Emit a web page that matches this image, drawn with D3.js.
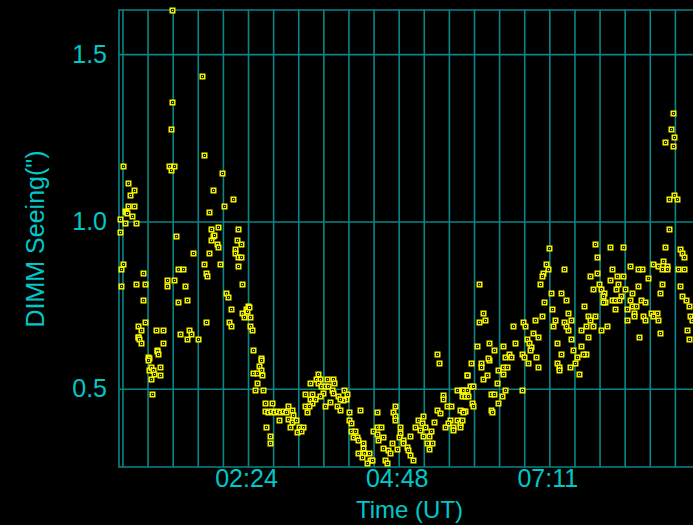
<!DOCTYPE html>
<html>
<head>
<meta charset="utf-8">
<script src="https://cdn.jsdelivr.net/npm/d3@7"></script>
<style>
  html, body { margin: 0; padding: 0; background: #000; overflow: hidden; }
  svg { display: block; }
</style>
</head>
<body>
<svg id="chart" width="693" height="525"></svg>
<script>
// ---- data ---------------------------------------------------------------
// time axis in minutes after 00:00 UT, seeing in arcsec
const timeTicks = [144, 288, 432];
const timeLabels = ['02:24', '04:48', '07:11'];
const gridMinutes = d3.range(24, 577, 24);   // one grid line every 24 min
const seeingTicks = [0.5, 1.0, 1.5];
const seeingLabels = ['0.5', '1.0', '1.5'];
const xTitle = 'Time (UT)';
const yTitle = 'DIMM Seeing(")';

// [minutes UT, DIMM seeing]
const seeingObs = [
  [21.7,1.007],[21.7,0.967],[22.6,0.858],[22.6,0.808],[24.2,1.166],[24.2,0.874],[26.1,0.995],[26.4,1.032],
  [27.4,1.028],[28.3,1.026],[29.6,1.116],[29.6,1.045],[31.5,1.078],[33.4,1.017],[35.0,1.094],[35.0,1.045],
  [36.7,0.995],[36.7,0.814],[38.6,0.688],[38.6,0.656],[39.3,0.654],[40.1,0.649],[42.0,0.676],[42.0,0.638],
  [43.6,0.847],[43.6,0.764],[45.5,0.814],[45.5,0.698],[48.1,0.594],[48.9,0.592],[48.4,0.586],[49.1,0.556],
  [51.0,0.566],[51.0,0.529],[52.5,0.485],[52.9,0.556],[54.4,0.545],[56.1,0.676],[56.7,0.616],[57.0,0.613],
  [58.0,0.605],[59.9,0.566],[59.9,0.540],[63.1,0.676],[63.1,0.638],[66.6,0.825],[66.6,0.808],[68.8,1.166],
  [70.1,1.154],[70.1,1.275],[71.6,1.631],[71.6,1.357],[73.3,1.166],[73.6,0.825],[75.2,0.956],[77.4,0.858],
  [77.4,0.759],[79.0,0.665],[82.2,0.858],[84.1,0.808],[86.0,0.764],[86.0,0.649],[87.6,0.676],[89.5,0.665],
  [91.1,0.907],[96.5,0.649],[100.0,1.435],[102.0,1.199],[102.0,0.874],[103.6,0.847],[103.6,0.698],[105.1,0.836],
  [107.0,1.028],[107.0,0.907],[108.6,0.978],[108.6,0.945],[110.6,1.094],[110.8,0.956],[111.5,0.960],[114.1,0.934],
  [115.6,0.984],[115.6,0.923],[117.5,0.874],[119.4,1.144],[121.1,1.045],[123.0,0.786],[124.6,0.775],[126.1,0.698],
  [128.0,0.737],[128.0,0.688],[130.0,1.067],[131.6,0.917],[131.6,0.907],[133.2,0.945],[134.4,0.978],[134.4,0.895],
  [134.4,0.868],[137.0,0.934],[137.0,0.895],[138.6,0.814],[138.6,0.726],[140.2,0.715],[142.1,0.737],[143.0,0.733],
  [144.0,0.748],[145.0,0.745],[145.9,0.715],[145.9,0.688],[147.5,0.676],[149.1,0.616],[156.1,0.592],
  [156.1,0.586],[154.8,0.569],[156.1,0.556],[149.1,0.547],[152.3,0.547],[157.7,0.540],[152.3,0.518],[151.0,0.496],
  [158.0,0.496],[160.0,0.457],[166.6,0.457],[160.3,0.434],[163.1,0.431],[166.0,0.434],[168.9,0.431],[171.7,0.434],
  [174.6,0.431],[177.5,0.434],[180.3,0.431],[182.5,0.447],[186.3,0.435],[187.3,0.422],[173.9,0.407],[182.5,0.409],
  [185.8,0.402],[189.9,0.407],[184.1,0.387],[193.0,0.387],[196.9,0.387],[190.5,0.372],[194.7,0.375],[161.5,0.387],
  [165.0,0.359],[165.0,0.337],
  [210.6,0.545],[209.0,0.530],[212.8,0.530],[203.5,0.518],[211.2,0.518],[219.5,0.530],[225.0,0.530],[226.5,0.518],
  [213.5,0.509],[217.6,0.509],[220.8,0.509],[224.0,0.496],[198.5,0.485],[205.5,0.485],[216.0,0.487],[212.8,0.479],
  [225.5,0.487],[230.3,0.479],[236.1,0.496],[238.9,0.484],[203.3,0.469],[208.0,0.469],[204.9,0.457],[222.4,0.459],
  [228.8,0.447],[237.7,0.469],[235.1,0.467],[232.0,0.469],[198.5,0.447],[202.0,0.447],[200.1,0.430],[217.9,0.447],
  [232.0,0.435],[240.5,0.430],[251.0,0.435],[267.0,0.430],[240.5,0.407],[242.2,0.397],[242.5,0.375],[246.3,0.375],
  [244.1,0.357],[247.9,0.357],[249.4,0.347],[254.2,0.337],[253.6,0.322],[249.4,0.309],[255.2,0.309],[259.9,0.309],
  [252.7,0.297],[260.6,0.287],[257.4,0.277],[262.2,0.287],[267.0,0.387],[270.9,0.387],[263.8,0.375],[267.0,0.365],
  [272.8,0.357],[268.6,0.347],[281.4,0.337],[273.3,0.322],[278.1,0.317],[279.7,0.307],[275.0,0.287],[276.6,0.277],
  [284.5,0.447],[282.9,0.429],[284.5,0.417],[284.5,0.407],[289.3,0.387],[289.3,0.369],[288.3,0.357],[292.4,0.347],
  [292.4,0.337],[295.7,0.325],[297.3,0.317],[286.1,0.319],[298.8,0.301],[302.0,0.287],[298.8,0.359],[306.8,0.407],
  [310.0,0.397],[311.6,0.417],[303.6,0.387],[308.4,0.377],[313.2,0.387],[311.0,0.359],[317.3,0.359],[314.8,0.337],
  [319.6,0.337],[316.7,0.319],[318.9,0.375],[326.9,0.577],[324.4,0.437],[327.5,0.427],[321.8,0.402],[330.7,0.482],
  [330.7,0.469],[333.9,0.447],[337.7,0.447],[337.1,0.407],[335.4,0.397],[340.2,0.387],[343.5,0.407],[346.6,0.397],
  [340.2,0.377],[332.3,0.387],[343.5,0.497],[348.3,0.497],[349.8,0.487],[353.0,0.542],[349.8,0.432],[351.4,0.432],
  [346.6,0.437],[325.0,0.605],
  [356.9,0.577],[367.0,0.577],[367.0,0.566],[374.4,0.586],[353.0,0.540],[368.9,0.529],[372.1,0.542],[356.2,0.507],
  [359.4,0.507],[349.8,0.495],[353.0,0.495],[348.3,0.479],[351.4,0.479],[354.6,0.479],[381.7,0.517],[388.0,0.545],
  [383.2,0.556],[388.0,0.566],[391.3,0.566],[376.0,0.484],[379.4,0.484],[386.5,0.479],[390.0,0.495],[383.0,0.457],
  [358.4,0.457],[359.4,0.447],[376.0,0.435],[377.5,0.429],[349.8,0.429],[348.3,0.407],[346.6,0.385],[405.9,0.495],
  [411.3,0.577],[421.5,0.566],[439.3,0.577],[441.0,0.566],[441.0,0.556],[451.8,0.566],[456.5,0.578],[460.1,0.545],
  [551.2,1.078],[546.4,1.067],[553.7,1.067],[546.4,0.978],[542.9,0.923],[556.9,0.917],[558.5,0.907],[560.4,0.895],
  [555.3,0.858],[560.7,0.858],[556.9,0.808],[558.5,0.776],[562.6,0.764],[565.8,0.748],[566.5,0.716],[568.1,0.706],
  [563.9,0.676],[565.8,0.648],[539.4,0.814],[537.5,0.786],[530.8,0.874],[535.6,0.868],[541.0,0.883],[544.8,0.868],
  [539.4,0.858],[544.8,0.858],[526.0,0.831],[516.5,0.808],[520.3,0.858],[516.5,0.858],[509.4,0.868],[502.4,0.923],
  [490.3,0.923],[475.7,0.934],[477.9,0.895],[491.9,0.858],[477.9,0.847],[470.9,0.836],[496.7,0.836],[502.4,0.836],
  [490.0,0.826],[479.8,0.814],[474.0,0.798],[481.7,0.798],[495.5,0.798],[504.0,0.798],[497.4,0.814],[511.0,0.786],
  [484.3,0.786],[483.6,0.776],[485.5,0.759],[483.6,0.759],[491.6,0.764],[495.1,0.764],[500.8,0.776],[498.9,0.764],
  [509.1,0.764],[520.0,0.764],[523.5,0.759],[511.0,0.748],[514.9,0.748],[495.1,0.737],[506.0,0.737],[513.0,0.726],
  [513.0,0.716],[506.0,0.704],[521.8,0.716],[523.5,0.704],[529.2,0.726],[534.6,0.726],[531.4,0.716],[536.2,0.704],
  [537.5,0.666],[518.0,0.655],[487.4,0.688],[481.1,0.676],[469.3,0.716],[475.7,0.716],[470.9,0.704],[474.0,0.688],
  [467.1,0.688],[462.0,0.676],[469.0,0.655],[465.5,0.748],[462.0,0.628],[467.1,0.605],[463.9,0.605],[458.2,0.594],
  [454.9,0.616],[453.0,0.648],[446.3,0.698],[449.6,0.676],[448.0,0.688],[453.0,0.704],[449.6,0.726],[437.4,0.704],
  [435.8,0.688],[439.0,0.638],[442.9,0.605],[446.3,0.858],[432.0,0.921],[428.5,0.874],[430.4,0.858],[426.2,0.846],
  [425.0,0.836],[423.4,0.814],[433.9,0.786],[443.5,0.786],[448.0,0.764],[426.9,0.759],[434.6,0.737],[425.0,0.716],
  [418.0,0.704],[407.1,0.698],[409.0,0.688],[397.0,0.688],[416.1,0.666],[421.5,0.655],[411.0,0.648],[412.9,0.638],
  [414.8,0.626],[413.5,0.616],[419.3,0.594],[405.9,0.605],[407.8,0.594],[399.2,0.638],[388.0,0.628],[379.4,0.616],
  [374.1,0.638],[390.0,0.594],[393.8,0.605],[395.4,0.594],[373.7,0.592],[363.2,0.628],[368.6,0.726],[365.1,0.699],
  [370.5,0.704],[365.1,0.814],
  [550.0,1.324],[548.0,1.275],[551.5,1.253],[542.9,1.237],[550.0,1.226]
];

// ---- layout -------------------------------------------------------------
const W = 693, H = 525;
const M = { top: 10, left: 119, bottom: 467, right: 700 };   // plot runs past the right edge
const GRID = '#0b8585';
const TEXT = '#00c8c8';
const DOT = '#ffff00';
const FONT = '"Liberation Sans", Arial, sans-serif';

const svg = d3.select('#chart');
svg.append('rect').attr('width', W).attr('height', H).attr('fill', '#000');

const x = d3.scaleLinear().domain([20.7, 576]).range([M.left, M.right]);
const y = d3.scaleLinear().domain([0.266, 1.632]).range([M.bottom, M.top]);

// grid
svg.append('g')
  .attr('transform', `translate(0,${M.bottom})`)
  .call(d3.axisBottom(x).tickValues(gridMinutes).tickSize(-(M.bottom - M.top)).tickFormat(() => ''))
  .call(g => g.select('.domain').remove())
  .call(g => g.selectAll('.tick line').attr('stroke', GRID).attr('stroke-width', 1.6));

svg.append('g')
  .attr('transform', `translate(${M.left},0)`)
  .call(d3.axisLeft(y).tickValues(seeingTicks).tickSize(-(M.right - M.left)).tickFormat(() => ''))
  .call(g => g.select('.domain').remove())
  .call(g => g.selectAll('.tick line').attr('stroke', GRID).attr('stroke-width', 1.6));

// frame (left, top, bottom)
svg.append('path')
  .attr('d', `M${M.right},${M.top}H${M.left}V${M.bottom}H${M.right}`)
  .attr('fill', 'none')
  .attr('stroke', GRID)
  .attr('stroke-width', 1.6);

// tick labels
svg.append('g')
  .selectAll('text')
  .data(seeingTicks)
  .join('text')
  .attr('x', 107)
  .attr('y', d => y(d) + 8.5)
  .attr('text-anchor', 'end')
  .attr('fill', TEXT)
  .style('font', `25px ${FONT}`)
  .text((d, i) => seeingLabels[i]);

svg.append('g')
  .selectAll('text')
  .data(timeTicks)
  .join('text')
  .attr('x', d => x(d) - 1.5)
  .attr('y', 487)
  .attr('text-anchor', 'middle')
  .attr('fill', TEXT)
  .style('font', `25px ${FONT}`)
  .text((d, i) => timeLabels[i]);

// axis titles
svg.append('text')
  .attr('x', 409.5)
  .attr('y', 518)
  .attr('text-anchor', 'middle')
  .attr('fill', TEXT)
  .style('font', `24px ${FONT}`)
  .text(xTitle);

svg.append('text')
  .attr('transform', 'translate(44,239) rotate(-90)')
  .attr('text-anchor', 'middle')
  .attr('fill', TEXT)
  .style('font', `25px ${FONT}`)
  .text(yTitle);

// points: small hollow squares with a centre dot
const pts = svg.append('g')
  .selectAll('g')
  .data(seeingObs)
  .join('g')
  .attr('transform', d => `translate(${Math.round(x(d[0])) + 0.5},${Math.round(y(d[1])) + 0.5})`);

pts.append('rect')
  .attr('x', -2.3).attr('y', -2.3)
  .attr('width', 4.6).attr('height', 4.6)
  .attr('fill', '#262600')
  .attr('stroke', DOT)
  .attr('stroke-width', 1.4);

pts.append('rect')
  .attr('x', -0.5).attr('y', -0.5)
  .attr('width', 1).attr('height', 1)
  .attr('fill', DOT);
</script>
</body>
</html>
